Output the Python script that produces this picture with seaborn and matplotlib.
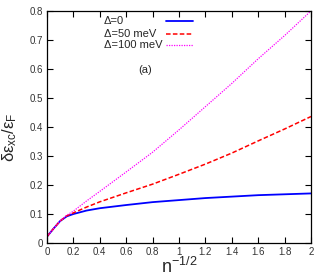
import numpy as np
import pandas as pd
import matplotlib
matplotlib.use("Agg")
import matplotlib.pyplot as plt
import seaborn as sns

# n^{-1/2} grid and curves
n_inv_sqrt = [0, 0.05, 0.1, 0.15, 0.2, 0.3, 0.4, 0.6, 0.8, 1.0, 1.2, 1.4, 1.6, 1.8, 2.0]
exc_d0 = [0.022, 0.05, 0.076, 0.092, 0.100, 0.112, 0.120, 0.131, 0.141, 0.148, 0.155, 0.160, 0.165, 0.168, 0.171]
exc_d50 = [0.022, 0.05, 0.076, 0.094, 0.104, 0.124, 0.142, 0.173, 0.203, 0.237, 0.272, 0.310, 0.352, 0.393, 0.436]
exc_d100 = [0.022, 0.05, 0.076, 0.096, 0.110, 0.145, 0.178, 0.245, 0.313, 0.390, 0.470, 0.550, 0.635, 0.715, 0.800]

labels = ["Δ=0", "Δ=50 meV", "Δ=100 meV"]
colors = ["#0000ff", "#ff0000", "#ff00ff"]
styles = ["-", (0, (3, 1.5)), (0, (1, 1))]
widths = [1.3, 1.1, 0.9]

sns.set_style("ticks")
plt.rcParams['font.family'] = ['Liberation Sans', 'DejaVu Sans']
plt.rcParams['mathtext.fontset'] = 'custom'
plt.rcParams['mathtext.rm'] = 'Liberation Sans'
plt.rcParams['mathtext.it'] = 'Liberation Sans'

fig = plt.figure(figsize=(3.27, 2.8), dpi=100)
ax = fig.add_axes([0.1437, 0.132, 0.8073, 0.829])

rows = []
for lab, ys in zip(labels, [exc_d0, exc_d50, exc_d100]):
    for x, y in zip(n_inv_sqrt, ys):
        rows.append({"x": x, "y": y, "case": lab})
df = pd.DataFrame(rows)

for lab, c, ls, lw in zip(labels, colors, styles, widths):
    sub = df[df["case"] == lab]
    sns.lineplot(data=sub, x="x", y="y", ax=ax, color=c, linestyle=ls, linewidth=lw)

ax.set_xlim(0, 2)
ax.set_ylim(0, 0.8)
ax.set_xticks(np.arange(0, 2.01, 0.2))
ax.set_xticklabels(["0", "0.2", "0.4", "0.6", "0.8", "1", "1.2", "1.4", "1.6", "1.8", "2"])
ax.set_yticks(np.arange(0, 0.81, 0.1))
ax.set_yticklabels(["0", "0.1", "0.2", "0.3", "0.4", "0.5", "0.6", "0.7", "0.8"])
ax.tick_params(direction="in", top=True, right=True, length=4, width=0.8,
               labelsize=7, pad=3, colors="black", labelcolor="#333333")
for sp in ax.spines.values():
    sp.set_linewidth(0.9)
    sp.set_color("black")

ax.set_xlabel(r"n$^{\mathregular{-1/2}}$", fontsize=13, labelpad=0)
ax.set_ylabel(r"$\delta\varepsilon_{\mathregular{xc}}\mathregular{/}\varepsilon_{\mathregular{F}}$", fontsize=12)
ax.yaxis.set_label_coords(-0.105, 0.455)

# gnuplot-style key: left-aligned text, sample line on the right
key_y = [0.955, 0.902, 0.855]
for lab, c, ls, lw, ky in zip(labels, colors, styles, widths, key_y):
    ax.text(0.215, ky, lab, transform=ax.transAxes, fontsize=8, va="center", ha="left")
    ax.plot([0.451, 0.553], [ky, ky], transform=ax.transAxes, color=c, linestyle=ls, linewidth=lw)

ax.text(0.371, 0.745, "(a)", transform=ax.transAxes, fontsize=8, ha="center", va="center")

fig.savefig("out.png", dpi=100)
